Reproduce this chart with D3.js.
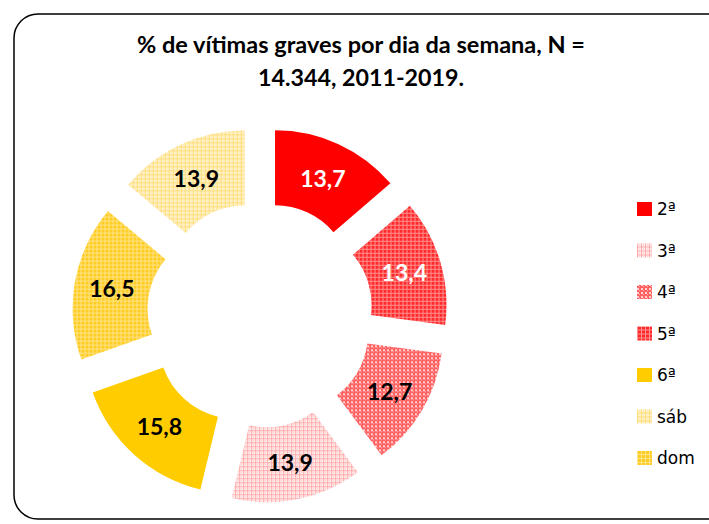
<!DOCTYPE html>
<html>
<head>
<meta charset="utf-8">
<script src="https://cdn.jsdelivr.net/npm/d3@7"></script>
<style>
body{margin:0;background:#fff}
svg text{font-family:Lato,'Noto Sans',sans-serif}
svg text.legtext{font-family:'DejaVu Sans',sans-serif}
</style>
</head>
<body>
<div id="chart"></div>
<script>
var days     = ['2ª','3ª','4ª','5ª','6ª','sáb','dom']
var values   = [13.7,13.4,12.7,13.9,15.8,16.5,13.9]
var labels   = ['13,7','13,4','12,7','13,9','15,8','16,5','13,9']
// fills as they appear round the ring, and as they appear in the legend
var sliceFill  = ['red','denseRed','midPink','lightPink','gold','goldPat','lightYel']
var legendFill = ['red','lightPink','midPink','denseRed','gold','lightYel','goldPat']
var labelColor = ['#fff','#fff','#000','#000','#000','#000','#000']
var title = ['% de vítimas graves por dia da semana, N =','14.344, 2011-2019.']
var titleWidth = [448,206]

var W=709, H=524
var cx=260, cy=315
var outerR=152, innerR=77, explode=36

var svg=d3.select('#chart').append('svg')
    .attr('width',W)
    .attr('height',H)

var defs=svg.append('defs')

// little 4x4 tiles, close enough to the office pattern fills
function MakePattern(id, bg, cells){
    var p=defs.append('pattern')
	.attr('id',id)
	.attr('patternUnits','userSpaceOnUse')
	.attr('width',4)
	.attr('height',4)
    p.append('rect').attr('width',4).attr('height',4).attr('fill',bg)
    cells.forEach(function(c){
	p.append('rect')
	    .attr('x',c[0]).attr('y',c[1])
	    .attr('width',c[2]).attr('height',c[3])
	    .attr('fill',c[4])
    })
}
MakePattern('denseRed','#ff2a2a',[[0,0,4,1,'#ff9090'],[0,0,1,4,'#ff9090']])
MakePattern('midPink','#ff6060',[[0,0,2,2,'#ffd0d0'],[2,2,1,1,'#ffb4b4']])
MakePattern('lightPink','#fff0f0',[[0,0,4,1,'#ffaaaa'],[0,0,1,4,'#ffaaaa'],[2,2,1,1,'#ffc4c4']])
MakePattern('goldPat','#ffcc22',[[0,0,4,1,'#ffe488'],[0,0,1,4,'#ffe488']])
MakePattern('lightYel','#fff4d0',[[0,0,4,1,'#ffdc78'],[0,0,1,4,'#ffdc78'],[2,2,1,1,'#ffeaa8']])

function Fill(key){
    if(key=='red') return '#ff0000'
    if(key=='gold') return '#ffcc00'
    return 'url(#'+key+')'
}

// frame, runs off the right and bottom edge
svg.append('rect')
    .attr('x',14).attr('y',14)
    .attr('width',740).attr('height',505)
    .attr('rx',24).attr('ry',24)
    .attr('fill','#fff')
    .attr('stroke','#000')
    .attr('stroke-width',1.5)

svg.selectAll('.title')
    .data(title)
    .enter().append('text')
    .attr('class','title')
    .attr('x',361)
    .attr('y',function(d,i){return 53+i*33})
    .attr('text-anchor','middle')
    .attr('textLength',function(d,i){return titleWidth[i]})
    .attr('lengthAdjust','spacingAndGlyphs')
    .style('font-size','22px')
    .style('font-weight','bold')
    .text(function(d){return d})

var pie=d3.pie().sort(null).value(function(d){return d})
var arcs=pie(values)
var arc=d3.arc().innerRadius(innerR).outerRadius(outerR)
var mid=d3.arc().innerRadius((innerR+outerR)/2).outerRadius((innerR+outerR)/2)

function Shift(d){
    var a=(d.startAngle+d.endAngle)/2
    return [Math.sin(a)*explode, -Math.cos(a)*explode]
}

var g=svg.append('g').attr('transform','translate('+cx+','+cy+')')

var slice=g.selectAll('g.slice')
    .data(arcs)
    .enter().append('g')
    .attr('class','slice')
    .attr('transform',function(d){
	var s=Shift(d)
	return 'translate('+s[0]+','+s[1]+')'
    })

slice.append('path')
    .attr('d',arc)
    .attr('fill',function(d,i){return Fill(sliceFill[i])})

slice.append('text')
    .attr('transform',function(d){return 'translate('+mid.centroid(d)+')'})
    .attr('text-anchor','middle')
    .attr('dy','0.36em')
    .style('font-size','23px')
    .style('font-weight','bold')
    .attr('fill',function(d,i){return labelColor[i]})
    .text(function(d,i){return labels[i]})

// legend
var ly=d3.scalePoint().domain(days).range([209,458])

var leg=svg.selectAll('g.leg')
    .data(days)
    .enter().append('g')
    .attr('class','leg')
    .attr('transform',function(d){return 'translate(637,'+ly(d)+')'})

leg.append('rect')
    .attr('x',0).attr('y',-7)
    .attr('width',15).attr('height',14)
    .attr('fill',function(d,i){return Fill(legendFill[i])})

leg.append('text')
    .attr('class','legtext')
    .attr('x',20)
    .attr('dy','0.36em')
    .style('font-size','17px')
    .attr('fill','#000')
    .text(function(d){return d})
</script>
</body>
</html>
